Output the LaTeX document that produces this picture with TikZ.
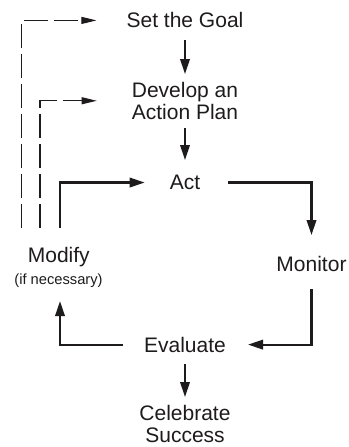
\documentclass[tikz,border=0pt]{standalone}
\usepackage{fontspec}
\setmainfont{Liberation Sans}
\usetikzlibrary{arrows.meta}
\definecolor{ink}{RGB}{30,27,28}
\tikzset{
  stage/.style={anchor=north, inner sep=0pt, align=center, text=ink,
    font=\fontsize{21}{21.7}\selectfont},
  note/.style={anchor=north, inner sep=0pt, text=ink,
    font=\fontsize{14.7}{17}\selectfont},
  flow/.style={draw=ink, line width=2.1pt,
    -{Triangle[length=15pt,width=9.5pt]}},
  loopback/.style={draw=ink, line width=1.05pt, dash pattern=on 24pt off 6pt,
    -{Triangle[length=15pt,width=7pt]}}
}
\begin{document}
\begin{tikzpicture}[x=1pt, y=-1pt]
  \fill[white] (0,0) rectangle (348,447);
  \useasboundingbox (0,0) rectangle (348,447);

  % stages of the cycle
  \node[stage] (goal) at (185,12.5) {Set the Goal};
  \node[stage] (plan) at (185,82) {Develop an\\Action Plan};
  \node[stage] (act) at (185,175) {Act};
  \node[stage] (monitor) at (311.5,256) {Monitor};
  \node[stage] (evaluate) at (185,336.7) {Evaluate};
  \node[stage] (celebrate) at (185,405) {Celebrate\\Success};
  \node[stage] (modify) at (58.8,246.7) {Modify};
  \node[note] (ifnec) at (58.5,274) {(if necessary)};

  % main flow
  \draw[flow, shorten <=12pt, shorten >=8pt] (goal.south) -- (plan.north);
  \draw[flow, shorten <=8.3pt, shorten >=15pt] (plan.south) -- (act.north);
  \draw[flow, shorten <=28pt, shorten >=21pt] (act.east) -| (monitor.north);
  \draw[flow, shorten <=17.5pt, shorten >=22pt] (monitor.south) |- (evaluate.east);
  \draw[flow, shorten <=21pt, shorten >=13pt] (evaluate.west) -| ([xshift=1.5pt]ifnec.south);
  \draw[flow, shorten >=25pt] ([xshift=1.2pt,yshift=18.7pt]modify.north) |- (act.west);
  \draw[flow, shorten <=11.6pt, shorten >=8pt] (evaluate.south) -- (celebrate.north);

  % optional loops back to earlier stages
  \draw[loopback, shorten >=30pt] ([xshift=-37pt,yshift=18.7pt]modify.north) |- (goal.west);
  \draw[loopback, shorten >=35pt] ([xshift=-18.8pt,yshift=18.7pt]modify.north) |- (plan.west);
\end{tikzpicture}
\end{document}
